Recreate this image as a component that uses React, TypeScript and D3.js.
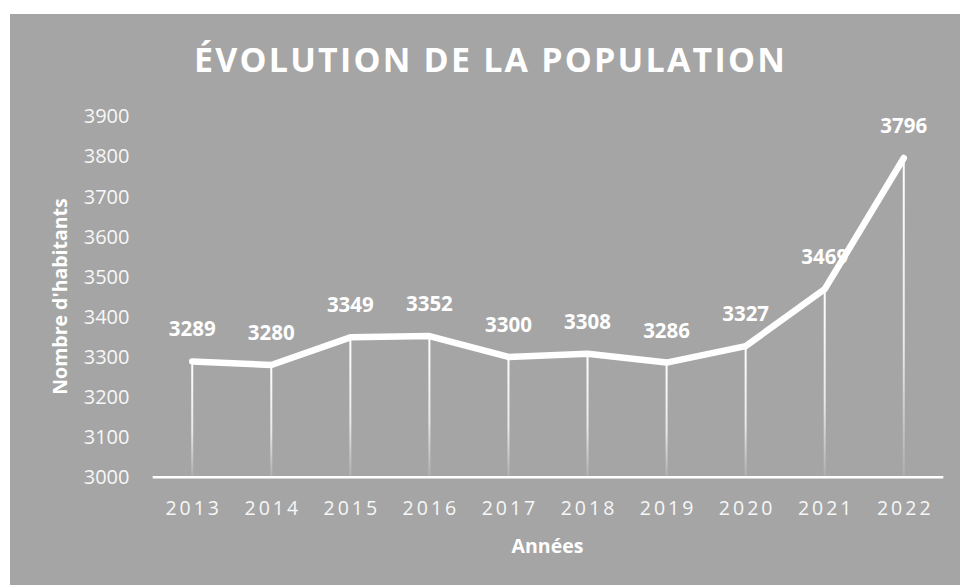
import React from "react";
import * as d3 from "d3";

const years = ["2013", "2014", "2015", "2016", "2017", "2018", "2019", "2020", "2021", "2022"];
const population = [3289, 3280, 3349, 3352, 3300, 3308, 3286, 3327, 3469, 3796];
const yTicks = [3000, 3100, 3200, 3300, 3400, 3500, 3600, 3700, 3800, 3900];
const title = "ÉVOLUTION DE LA POPULATION";
const xTitle = "Années";
const yTitle = "Nombre d'habitants";

const W = 960;
const H = 585;
const BG = "#a5a5a5";
const FONT = "'Open Sans', 'DejaVu Sans', sans-serif";

export default function App() {
  const x = d3.scaleBand<string>().domain(years).range([152.7, 943.3]).paddingInner(0).paddingOuter(0);
  const y = d3.scaleLinear().domain([3000, 3900]).range([477.3, 116.3]);
  const cx = (yr: string) => (x(yr) as number) + x.bandwidth() / 2;
  const line = d3
    .line<number>()
    .x((_, i) => cx(years[i]))
    .y((d) => y(d));

  return (
    <svg
      width={W}
      height={H}
      style={{ position: "absolute", left: 0, top: 0, display: "block" }}
      fontFamily={FONT}
    >
      <defs>
        <linearGradient id="drop" x1="0" y1="0" x2="0" y2="1">
          <stop offset="0" stopColor="#ffffff" stopOpacity={1} />
          <stop offset="0.6" stopColor="#ffffff" stopOpacity={0.75} />
          <stop offset="1" stopColor="#ffffff" stopOpacity={0.1} />
        </linearGradient>
      </defs>
      <rect x={0} y={0} width={W} height={H} fill="#ffffff" />
      <rect x={10} y={14} width={W - 10} height={H - 14} fill={BG} />

      <text
        x={490.5}
        y={71.5}
        textAnchor="middle"
        fontSize={34}
        fontWeight={700}
        letterSpacing={2.2}
        fill="#ffffff"
      >
        {title}
      </text>

      {yTicks.map((t) => (
        <text key={t} x={129.5} y={y(t) + 7} textAnchor="end" fontSize={20} fill="#f7f7f7">
          {t}
        </text>
      ))}

      {years.map((yr) => (
        <text
          key={yr}
          x={cx(yr) + 1.5}
          y={515}
          textAnchor="middle"
          fontSize={19.5}
          letterSpacing={3}
          fill="#f7f7f7"
        >
          {yr}
        </text>
      ))}

      <text
        transform={`translate(66.5,296.5) rotate(-90)`}
        textAnchor="middle"
        fontSize={19.5}
        fontWeight={700}
        fill="#ffffff"
      >
        {yTitle}
      </text>
      <text x={547.5} y={553} textAnchor="middle" fontSize={19.5} fontWeight={700} fill="#ffffff">
        {xTitle}
      </text>

      {population.map((v, i) => (
        <rect
          key={"d" + i}
          x={cx(years[i]) - 1}
          y={y(v)}
          width={2}
          height={y(3000) - y(v)}
          fill="url(#drop)"
        />
      ))}

      <line x1={152.7} x2={943.3} y1={y(3000)} y2={y(3000)} stroke="#ffffff" strokeWidth={2.5} />

      {population.map((v, i) => (
        <text
          key={"l" + i}
          x={cx(years[i])}
          y={y(v) - 25}
          textAnchor="middle"
          fontSize={20.5}
          fontWeight={700}
          fill="#ffffff"
        >
          {v}
        </text>
      ))}

      <path
        d={line(population) || ""}
        fill="none"
        stroke="#ffffff"
        strokeWidth={6.5}
        strokeLinecap="round"
        strokeLinejoin="round"
      />
    </svg>
  );
}
